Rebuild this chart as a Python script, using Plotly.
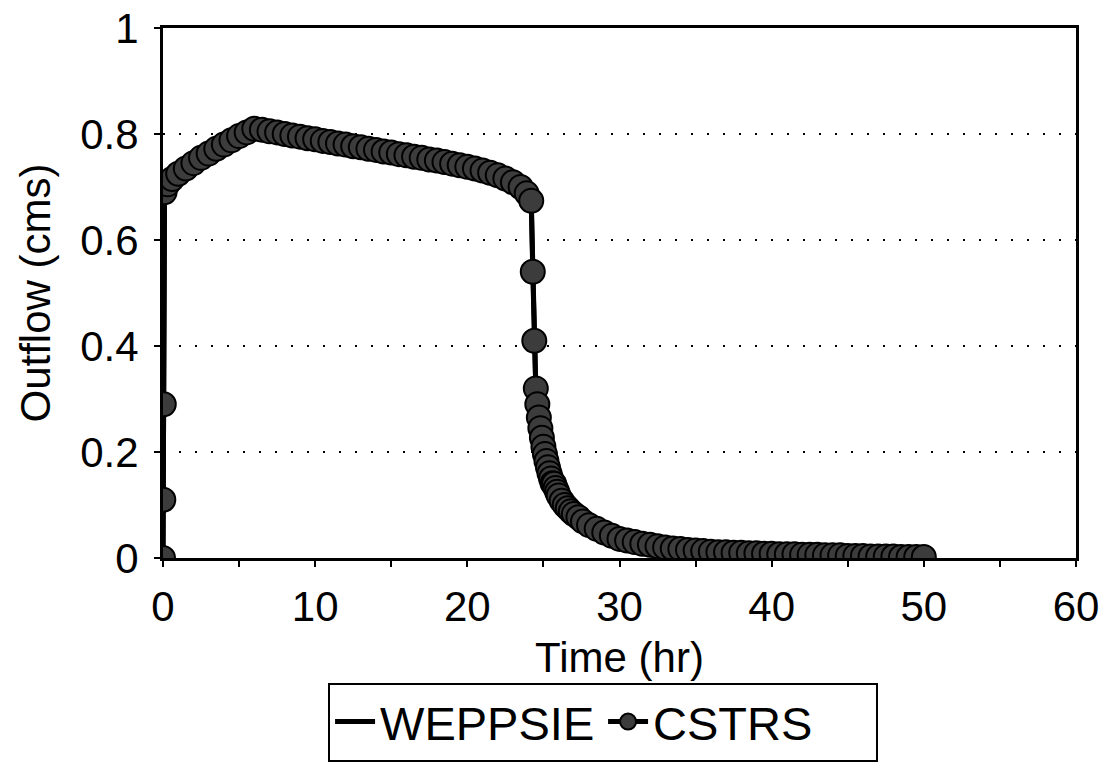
import plotly.graph_objects as go

# WEPPSIE outflow hydrograph (hr, cms)
weppsie_t = [0.0, 0.02, 0.05, 0.1, 0.3, 1.0, 3.0, 6.0, 10.0, 15.0, 20.0, 21.0, 22.0, 23.0,
             23.5, 23.9, 24.2, 24.3, 24.4, 24.5, 24.7, 25.0, 25.5, 26.0, 26.8, 28.0,
             29.0, 30.0, 32.0, 35.0, 40.0, 45.0, 50.0]
weppsie_q = [0.0, 0.11, 0.29, 0.69, 0.705, 0.725, 0.763, 0.81, 0.79, 0.765, 0.738, 0.731,
             0.722, 0.709, 0.70, 0.688, 0.674, 0.54, 0.41, 0.32, 0.265, 0.21, 0.15, 0.118,
             0.088, 0.062, 0.048, 0.036, 0.025, 0.013, 0.007, 0.004, 0.001]

# CSTRS outflow hydrograph (hr, cms)
cstrs_t = [0.0, 0.02, 0.05, 0.1, 0.3, 0.6, 1.0, 1.5, 2.0, 2.5, 3.0, 3.5, 4.0, 4.5, 5.0, 5.5,
           6.0, 6.5, 7.0, 7.5, 8.0, 8.5, 9.0, 9.5, 10.0, 10.5, 11.0, 11.5, 12.0, 12.5, 13.0,
           13.5, 14.0, 14.5, 15.0, 15.5, 16.0, 16.5, 17.0, 17.5, 18.0, 18.5, 19.0, 19.5,
           20.0, 20.5, 21.0, 21.5, 22.0, 22.5, 23.0, 23.5, 23.9, 24.2, 24.3, 24.4, 24.5,
           24.6, 24.7, 24.8, 24.9, 25.0, 25.1, 25.2, 25.3, 25.4, 25.5, 25.6, 25.7, 25.8,
           25.9, 26.0, 26.2, 26.4, 26.6, 26.8, 27.0, 27.3, 27.6, 28.0, 28.5, 29.0, 29.5,
           30.0, 30.5, 31.0, 31.5, 32.0, 32.5, 33.0, 33.5, 34.0, 34.5, 35.0, 35.5, 36.0,
           36.5, 37.0, 37.5, 38.0, 38.5, 39.0, 39.5, 40.0, 40.5, 41.0, 41.5, 42.0, 42.5,
           43.0, 43.5, 44.0, 44.5, 45.0, 45.5, 46.0, 46.5, 47.0, 47.5, 48.0, 48.5, 49.0,
           49.5, 50.0]
cstrs_q = [0.0, 0.11, 0.29, 0.69, 0.705, 0.715, 0.725, 0.735, 0.745, 0.755, 0.763, 0.772,
           0.78, 0.788, 0.796, 0.803, 0.81, 0.808, 0.805, 0.803, 0.80, 0.797, 0.795, 0.792,
           0.79, 0.787, 0.785, 0.782, 0.78, 0.777, 0.775, 0.772, 0.77, 0.767, 0.765, 0.762,
           0.76, 0.757, 0.755, 0.752, 0.75, 0.747, 0.744, 0.741, 0.738, 0.735, 0.731, 0.727,
           0.722, 0.716, 0.709, 0.70, 0.688, 0.674, 0.54, 0.41, 0.32, 0.29, 0.265, 0.245,
           0.227, 0.21, 0.196, 0.183, 0.171, 0.16, 0.15, 0.141, 0.14, 0.132, 0.125, 0.118,
           0.108, 0.10, 0.094, 0.088, 0.083, 0.077, 0.069, 0.062, 0.055, 0.048, 0.042,
           0.036, 0.033, 0.03, 0.027, 0.025, 0.022, 0.02, 0.018, 0.017, 0.015, 0.014,
           0.013, 0.012, 0.011, 0.011, 0.01, 0.01, 0.009, 0.009, 0.008, 0.008, 0.007,
           0.007, 0.007, 0.006, 0.006, 0.006, 0.005, 0.005, 0.005, 0.004, 0.004, 0.004,
           0.003, 0.003, 0.003, 0.003, 0.002, 0.002, 0.002, 0.002, 0.001, 0.001]

x_ticks = [0, 10, 20, 30, 40, 50, 60]
y_ticks = [0, 0.2, 0.4, 0.6, 0.8, 1]

FONT = "Liberation Sans, Arial, Helvetica, sans-serif"

fig = go.Figure()
fig.add_trace(go.Scatter(
    x=weppsie_t, y=weppsie_q, name="WEPPSIE", mode="lines",
    line=dict(color="black", width=5),
))
fig.add_trace(go.Scatter(
    x=cstrs_t, y=cstrs_q, name="CSTRS", mode="lines+markers",
    line=dict(color="black", width=5),
    marker=dict(symbol="circle", size=24, color="#3c3c3c",
                line=dict(color="black", width=2)),
))

fig.update_layout(
    width=1102, height=780,
    margin=dict(l=163, r=26, t=28, b=222),
    paper_bgcolor="white", plot_bgcolor="white",
    font=dict(family=FONT, size=42, color="black"),
    showlegend=True,
    legend=dict(
        orientation="h", x=0.482, xanchor="center", y=-0.235, yanchor="top",
        bordercolor="black", borderwidth=2, bgcolor="white",
        font=dict(size=47), itemwidth=40, entrywidth=218, tracegroupgap=0,
    ),
)

fig.update_xaxes(
    range=[0, 60], tickvals=x_ticks, ticktext=[str(v) for v in x_ticks],
    showline=True, linecolor="black", linewidth=3, mirror=True,
    ticks="outside", ticklen=6, tickwidth=2, tickcolor="black",
    minor=dict(dtick=5, ticks="outside", ticklen=6, tickwidth=2, tickcolor="black"),
    ticklabelstandoff=4, automargin=False,
    showgrid=False, zeroline=False,
    title=dict(text="Time (hr)", font=dict(size=42), standoff=14),
)
fig.update_yaxes(
    range=[0, 1], tickvals=y_ticks, ticktext=["0", "0.2", "0.4", "0.6", "0.8", "1"],
    showline=True, linecolor="black", linewidth=3, mirror=True,
    ticks="outside", ticklen=6, tickwidth=2, tickcolor="black",
    ticklabelstandoff=7, automargin=False,
    showgrid=True, gridcolor="black", gridwidth=1.5, griddash="2px,14px",
    zeroline=False,
    title=dict(text="Outflow (cms)", font=dict(size=42), standoff=17),
)

fig.write_html("out.html")
